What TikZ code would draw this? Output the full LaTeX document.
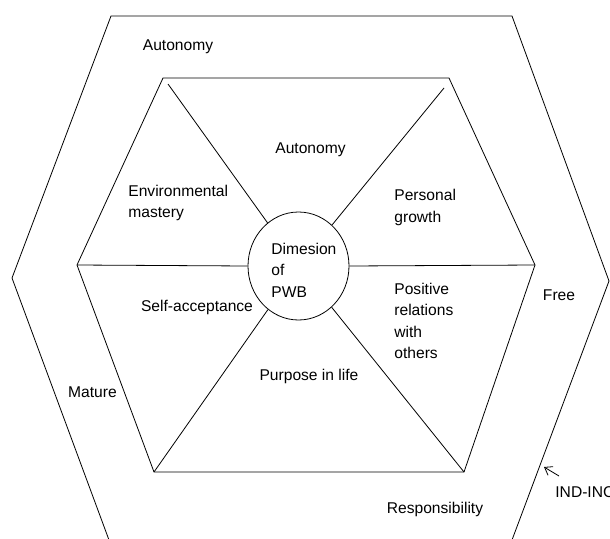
\documentclass[tikz,border=0pt]{standalone}
\usepackage{fontspec}
\setmainfont{Liberation Sans}
\usetikzlibrary{shapes.geometric,arrows.meta}
\begin{document}
\begin{tikzpicture}[x=1pt,y=-1pt,line width=0.8pt,
  lbl/.style={font=\fontsize{15.6}{21.5}\selectfont,inner sep=0pt},
  lblL/.style={lbl,align=left,anchor=west}]
\clip (0,0) rectangle (610,538);
% outer hexagon (bottom edge lies below the page)
\coordinate (o1) at (109,540);
\coordinate (o2) at (12,278);
\coordinate (o3) at (111,16);
\coordinate (o4) at (512,16);
\coordinate (o5) at (609,281);
\coordinate (o6) at (512,540);
\draw (o1) -- (o2) -- (o3) -- (o4) -- (o5) -- (o6);
% inner hexagon
\coordinate (i1) at (163,78);
\coordinate (i2) at (449,78);
\coordinate (i3) at (535,265);
\coordinate (i4) at (464,472);
\coordinate (i5) at (154,472);
\coordinate (i6) at (77,265);
\draw (i1) -- (i2) -- (i3) -- (i4) -- (i5) -- (i6) -- cycle;
% centre
\node[ellipse,draw,minimum width=101pt,minimum height=108pt,inner sep=0pt] (c) at (298.5,266) {};
\node[lblL] (ct) at (271,270) {Dimesion\\of\\PWB};
% spokes
\coordinate (s1) at (168,84);
\coordinate (s2) at (444,88);
\draw (s1) -- (c);
\draw (s2) -- (c);
\draw (i6) -- (c.west);
\draw (i3) -- (c.east);
\draw (i5) -- (c);
\draw (i4) -- (c);
% labels
\node[lbl] (l1) at (178,47) {Autonomy};
\node[lbl] (l2) at (310.5,150) {Autonomy};
\node[lblL] (l3) at (128,203) {Environmental\\mastery};
\node[lblL] (l4) at (394,207.5) {Personal\\growth};
\node[lbl] (l5) at (197,307) {Self-acceptance};
\node[lblL] (l6) at (394,321) {Positive\\relations\\with\\others};
\node[lbl] (l7) at (309,376) {Purpose in life};
\node[lbl] (l8) at (559,295) {Free};
\node[lbl] (l9) at (92.5,392) {Mature};
\node[lbl] (l10) at (435,509) {Responsibility};
\node[lbl,anchor=west] (l11) at (555,492) {IND-INC};
\coordinate (at) at (559,476);
\coordinate (ar) at (544,467);
\draw[-{Straight Barb[length=7pt,width=10pt]},line width=0.8pt] (at) -- (ar);
\end{tikzpicture}
\end{document}
